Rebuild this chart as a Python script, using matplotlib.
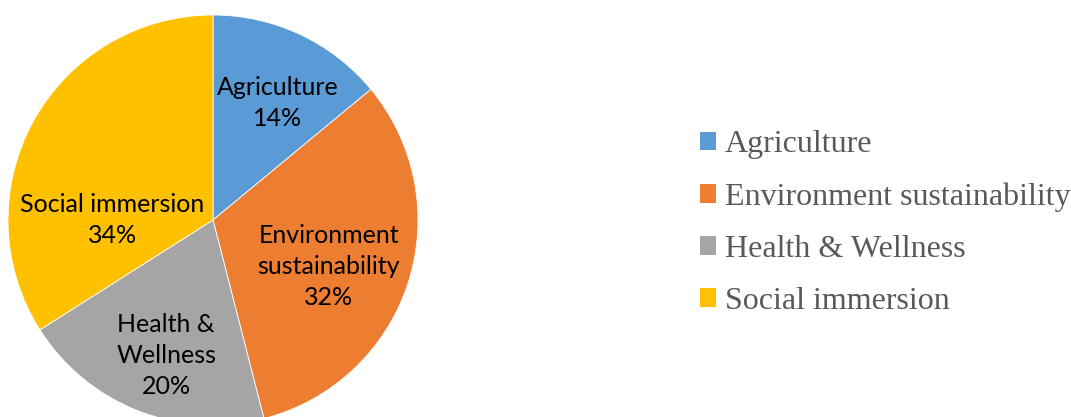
import numpy as np
import matplotlib.pyplot as plt

# Slice data
categories = ['Agriculture', 'Environment sustainability', 'Health & Wellness', 'Social immersion']
shares = [14, 32, 20, 34]
slice_labels = ['Agriculture\n14%', 'Environment\nsustainability\n32%', 'Health &\nWellness\n20%', 'Social immersion\n34%']
colors = ['#5B9BD5', '#ED7D31', '#A5A5A5', '#FFC000']

# where each label sits: (radius fraction, angle in degrees)
label_pos = [(0.65, 61), (0.61, -22), (0.70, -109), (0.49, 180)]

fig = plt.figure(figsize=(10.71, 4.17), dpi=100)
ax = fig.add_axes([0, 0, 1, 1])

cx, cy, R = 213, 197, 205
wedges, _ = ax.pie(shares, colors=colors, startangle=90, counterclock=False,
                   center=(cx, cy), radius=R, frame=True,
                   wedgeprops=dict(edgecolor='white', linewidth=0.6))
ax.set_xlim(0, 1071)
ax.set_ylim(0, 417)
ax.set_aspect('equal')
ax.axis('off')

for txt, (rf, ang) in zip(slice_labels, label_pos):
    a = np.deg2rad(ang)
    ax.text(cx + rf * R * np.cos(a), cy + rf * R * np.sin(a), txt,
            ha='center', va='center', fontsize=18, family='Lato',
            color='black', linespacing=1.42)

leg = fig.legend(wedges, categories, loc='center left',
                 bbox_to_anchor=(700 / 1071, 1 - 223 / 417),
                 frameon=False, prop={'family': 'Liberation Serif', 'size': 23},
                 labelcolor='#595959', handlelength=0.5, handleheight=0.5,
                 handletextpad=0.28, labelspacing=0.72, borderpad=0, borderaxespad=0)
for h in leg.legend_handles:
    h.set_edgecolor('none')

fig.savefig('out.png', dpi=100)
